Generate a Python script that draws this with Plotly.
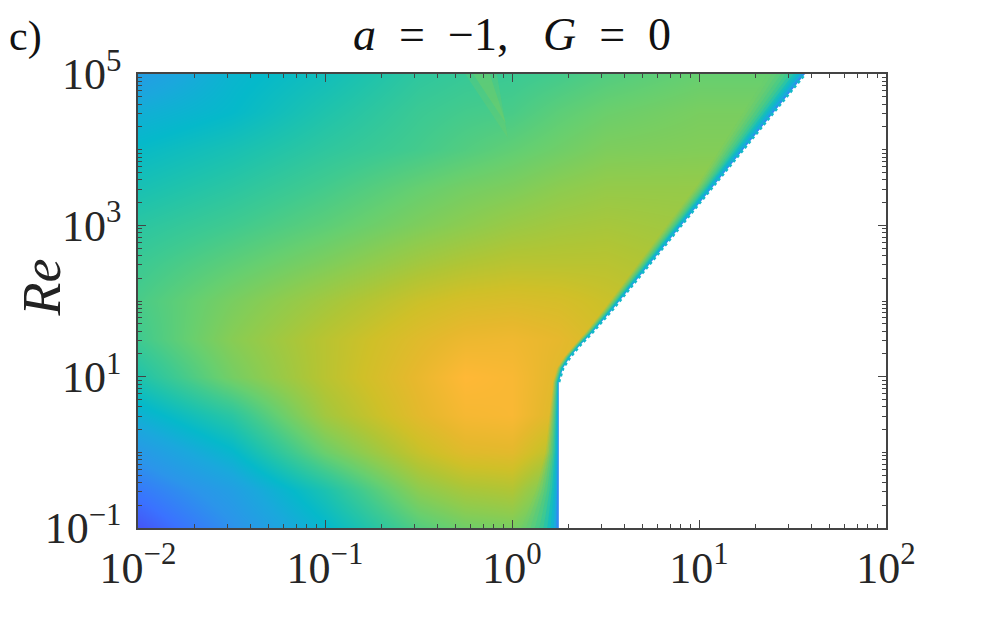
import plotly.graph_objects as go
import numpy as np

# grid nodes, log10 of x and of Re
log_x = [-2, -1.5, -1, -0.5, -0.25, 0, 0.25, 0.5, 1, 1.5, 2]
log_re = [-1, -0.5, 0, 0.5, 1, 1.5, 2, 2.5, 3, 3.5, 4, 4.5, 5]

# colour position, bottom row first
z_rows = [
    [0.03, 0.19, 0.37, 0.58, 0.64, 0.66, 0.55, 0.55, 0.55, 0.55, 0.55],
    [0.12, 0.25, 0.45, 0.70, 0.76, 0.78, 0.62, 0.62, 0.62, 0.62, 0.62],
    [0.22, 0.37, 0.63, 0.83, 0.90, 0.91, 0.78, 0.78, 0.78, 0.78, 0.78],
    [0.34, 0.49, 0.75, 0.91, 0.97, 0.98, 0.88, 0.88, 0.88, 0.88, 0.88],
    [0.46, 0.65, 0.80, 0.93, 1.00, 0.98, 0.90, 0.88, 0.85, 0.85, 0.85],
    [0.54, 0.69, 0.80, 0.90, 0.94, 0.95, 0.92, 0.86, 0.82, 0.82, 0.82],
    [0.56, 0.66, 0.75, 0.84, 0.87, 0.88, 0.87, 0.84, 0.78, 0.78, 0.78],
    [0.53, 0.60, 0.67, 0.75, 0.78, 0.80, 0.80, 0.80, 0.76, 0.76, 0.76],
    [0.49, 0.54, 0.60, 0.67, 0.70, 0.73, 0.75, 0.76, 0.74, 0.74, 0.74],
    [0.44, 0.49, 0.55, 0.62, 0.65, 0.67, 0.70, 0.72, 0.72, 0.72, 0.72],
    [0.39, 0.44, 0.50, 0.55, 0.58, 0.61, 0.64, 0.67, 0.68, 0.68, 0.68],
    [0.33, 0.38, 0.46, 0.53, 0.55, 0.56, 0.60, 0.63, 0.66, 0.66, 0.66],
    [0.24, 0.36, 0.42, 0.50, 0.52, 0.53, 0.55, 0.58, 0.62, 0.62, 0.62],
]

color_stops = [
    [0.00, "#4a48f0"], [0.10, "#3a72ff"], [0.20, "#2b95ea"], [0.30, "#1aa8dc"],
    [0.38, "#05b9ca"], [0.46, "#1fc3ac"], [0.54, "#3fca90"], [0.62, "#66cf70"],
    [0.70, "#8ccc50"], [0.78, "#b0c535"], [0.85, "#cfc028"], [0.92, "#e6b82d"],
    [1.00, "#ffb836"],
]

# edge of the empty region
edge_x = [1.78, 1.78, 1.78, 1.78, 1.875, 2.04, 2.31, 2.68, 3.43, 12.3, 36.9]
edge_re = [0.1, 0.316, 1, 8.5, 13, 18, 26, 38, 76, 3630, 1e5]
edge_width = [0.2, 0.12, 0.07, 0.03, 0.03, 0.03, 0.03, 0.035, 0.045, 0.09, 0.2]

band_fracs = [1.0, 0.88, 0.76, 0.64, 0.52, 0.41, 0.31, 0.22, 0.14, 0.07]
band_colors = [
    "rgba(100,205,120,0.18)", "rgba(85,205,130,0.25)", "rgba(70,203,140,0.3)",
    "rgba(55,200,150,0.35)", "rgba(40,197,165,0.4)", "rgba(25,192,185,0.5)",
    "rgba(10,186,200,0.6)", "rgba(15,178,212,0.7)", "rgba(30,165,225,0.75)",
    "rgba(55,130,245,0.8)",
]

# pale wedge under the top axis, both parts share the tip
wedge_x = [0.562, 0.83, 0.95]
wedge_re = [1e5, 1e5, 14250]
wedge_core_x = [0.62, 0.76, 0.93]
wedge_core_re = [1e5, 1e5, 22000]

x_major = [0.01, 0.1, 1, 10, 100]
x_labels = ["10<sup>−2</sup>", "10<sup>−1</sup>", "10<sup>0</sup>", "10<sup>1</sup>", "10<sup>2</sup>"]
y_major = [0.1, 10, 1000, 100000]
y_labels = ["10<sup>−1</sup>", "10<sup>1</sup>", "10<sup>3</sup>", "10<sup>5</sup>"]
x_minor = [d * 10.0**k for k in range(-2, 2) for d in range(2, 10)]
y_minor = [d * 10.0**k for k in range(-1, 5) for d in range(1, 10)]

fig = go.Figure()
fig.add_trace(go.Heatmap(
    x=[10.0**v for v in log_x], y=[10.0**v for v in log_re], z=z_rows,
    colorscale=color_stops, zmin=0, zmax=1, zsmooth="best", showscale=False,
))

for wx, wy, color in [(wedge_x, wedge_re, "rgba(125,205,95,0.25)"),
                      (wedge_core_x, wedge_core_re, "rgba(125,205,95,0.35)")]:
    fig.add_trace(go.Scatter(
        x=wx, y=wy, mode="lines", line=dict(width=0), fill="toself",
        fillcolor=color, showlegend=False,
    ))

# edge colours, then white over the empty part
for frac, color in zip(band_fracs, band_colors):
    shifted = [10 ** (np.log10(v) - w * frac) for v, w in zip(edge_x, edge_width)]
    fig.add_trace(go.Scatter(
        x=shifted + [100, 100], y=edge_re + [1e5, 0.1], mode="lines", line=dict(width=0),
        fill="toself", fillcolor=color, showlegend=False,
    ))
fig.add_trace(go.Scatter(
    x=edge_x + [100, 100], y=edge_re + [1e5, 0.1], mode="lines", line=dict(width=0),
    fill="toself", fillcolor="white", showlegend=False,
))
# the stepped look of the diagonal edge
fig.add_trace(go.Scatter(
    x=edge_x[3:], y=edge_re[3:], mode="lines",
    line=dict(width=3, color="#12b8c8", dash="3px,3px"), showlegend=False,
))

axis_style = dict(
    type="log", showgrid=False, zeroline=False, showline=True, linecolor="#444", linewidth=1.5,
    mirror="allticks", ticks="inside", ticklen=8, tickwidth=1.2, tickcolor="#444",
    tickfont=dict(family="Liberation Serif", size=44, color="#262626"),
)
fig.update_xaxes(
    range=[-2, 2], tickmode="array", tickvals=x_major, ticktext=x_labels,
    minor=dict(tickmode="array", tickvals=x_minor, ticks="inside", ticklen=4, tickwidth=1.2,
               tickcolor="#444", showgrid=False),
    **axis_style,
)
fig.update_yaxes(
    range=[-1, 5], tickmode="array", tickvals=y_major, ticktext=y_labels, ticklabelstandoff=6,
    minor=dict(tickmode="array", tickvals=y_minor, ticks="inside", ticklen=4, tickwidth=1.2,
               tickcolor="#444", showgrid=False),
    **axis_style,
)

fig.update_layout(
    width=985, height=610, margin=dict(l=130, r=107, t=66, b=90),
    paper_bgcolor="white", plot_bgcolor="white",
    font=dict(family="Liberation Serif", color="#111"),
    annotations=[
        dict(text="<i>a</i>  =  −1,   <i>G</i>  =  0", xref="paper", yref="paper", x=0.5, y=1,
             yshift=12, yanchor="bottom", showarrow=False, font=dict(size=46, color="#111")),
        dict(text="c)", xref="paper", yref="paper", x=0, y=1, xanchor="left", yanchor="bottom",
             xshift=-131, yshift=12, showarrow=False, font=dict(size=42, color="#111")),
        dict(text="<i>Re</i>", xref="paper", yref="paper", x=0, y=0.53, textangle=-90,
             xshift=-128, showarrow=False, font=dict(size=54, color="#222")),
    ],
)

fig.write_html("out.html")
